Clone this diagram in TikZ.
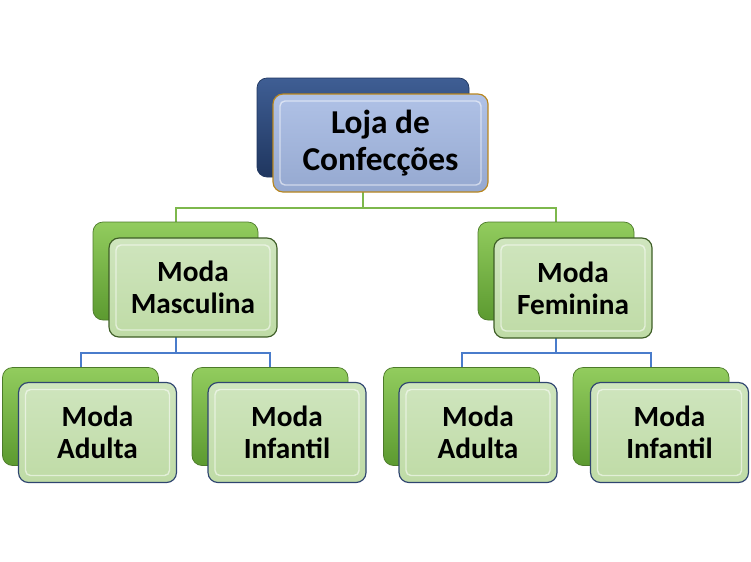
\documentclass[tikz,border=0pt]{standalone}
\usepackage{fontspec}
\setmainfont{Carlito}
\usetikzlibrary{backgrounds}

\definecolor{navytop}{HTML}{3F5E94}
\definecolor{navybot}{HTML}{1F365F}
\definecolor{rootfill}{HTML}{A2B7E2}
\definecolor{rootedge}{HTML}{B8861E}
\definecolor{leaftop}{HTML}{92CC5E}
\definecolor{leafbot}{HTML}{5C9A30}
\definecolor{leafedge}{HTML}{4C7A2A}
\definecolor{palegreen}{HTML}{CFE5BE}
\definecolor{palegreenbot}{HTML}{BFDBA6}
\definecolor{darkgreen}{HTML}{3E5E26}
\definecolor{darkblue}{HTML}{2F4570}
\definecolor{busgreen}{HTML}{7DB84C}
\definecolor{busblue}{HTML}{4A7CCB}

\begin{document}
\begin{tikzpicture}[x=0.3mm, y=-0.3mm,
	boxsize/.style 2 args = {minimum width = #1*0.3mm, minimum height = #2*0.3mm, inner sep = 0pt},
	backbox/.style = {rounded corners = 3mm, draw = leafedge, line width = .6pt, top color = leaftop, bottom color = leafbot},
	navybox/.style = {rounded corners = 3mm, draw = navybot, line width = .6pt, top color = navytop, bottom color = navybot},
	bevel/.style = {path picture = {
		\draw[white, opacity = .55, line width = 1.2pt, rounded corners = 1.5mm]
			([shift = {(2.1mm,-2.1mm)}]path picture bounding box.north west) rectangle
			([shift = {(-2.1mm,2.1mm)}]path picture bounding box.south east);}},
	frontbox/.style = {rounded corners = 3mm, line width = 1pt, top color = palegreen, bottom color = palegreenbot,
		bevel, align = center, font = \fontsize{25}{27.5}\selectfont\bfseries},
	rootbox/.style = {frontbox, draw = rootedge, top color = rootfill!85!white, bottom color = rootfill!92!black,
		font = \fontsize{28.5}{31}\selectfont\bfseries},
	busline/.style = {line width = .6mm}
	]
	\useasboundingbox (0,0) rectangle (751,561);

	% loja
	\node[navybox, boxsize = {212}{99}] (rootback) at (363,127.5) {};
	\node[rootbox, boxsize = {215}{98}] (root) at (380.5,143) {Loja de\\Confecções};

	% moda masculina / feminina
	\node[backbox, boxsize = {165}{98}] (mascback) at (175.5,271) {};
	\node[frontbox, draw = darkgreen, boxsize = {168}{99}] (masc) at (193,287.5) {Moda\\Masculina};
	\node[backbox, boxsize = {156}{98}] (femback) at (556,271) {};
	\node[frontbox, draw = darkgreen, boxsize = {158}{100}] (fem) at (573,288) {Moda\\Feminina};

	% adulta / infantil
	\node[backbox, boxsize = {156}{98}] (madultback) at (80.5,416.5) {};
	\node[frontbox, draw = darkblue, boxsize = {158}{100}] (madult) at (97.5,432.5) {Moda\\Adulta};
	\node[backbox, boxsize = {156}{98}] (minfback) at (270,416.5) {};
	\node[frontbox, draw = darkblue, boxsize = {158}{100}] (minf) at (287,432.5) {Moda\\Infantil};
	\node[backbox, boxsize = {156}{98}] (fadultback) at (461.5,416.5) {};
	\node[frontbox, draw = darkblue, boxsize = {158}{100}] (fadult) at (478,432.5) {Moda\\Adulta};
	\node[backbox, boxsize = {156}{98}] (finfback) at (651,416.5) {};
	\node[frontbox, draw = darkblue, boxsize = {158}{100}] (finf) at (669.5,432.5) {Moda\\Infantil};

	\begin{pgfonlayer}{background}
		\draw[busline, busgreen] (rootback.south) -- ++(0,31) -| (mascback.north);
		\draw[busline, busgreen] (rootback.south) -- ++(0,31) -| (femback.north);
		\draw[busline, busblue] (mascback.south) -- ++(0,33) -| (madultback.north);
		\draw[busline, busblue] (mascback.south) -- ++(0,33) -| (minfback.north);
		\draw[busline, busblue] (femback.south) -- ++(0,33) -| (fadultback.north);
		\draw[busline, busblue] (femback.south) -- ++(0,33) -| (finfback.north);
	\end{pgfonlayer}
\end{tikzpicture}
\end{document}
